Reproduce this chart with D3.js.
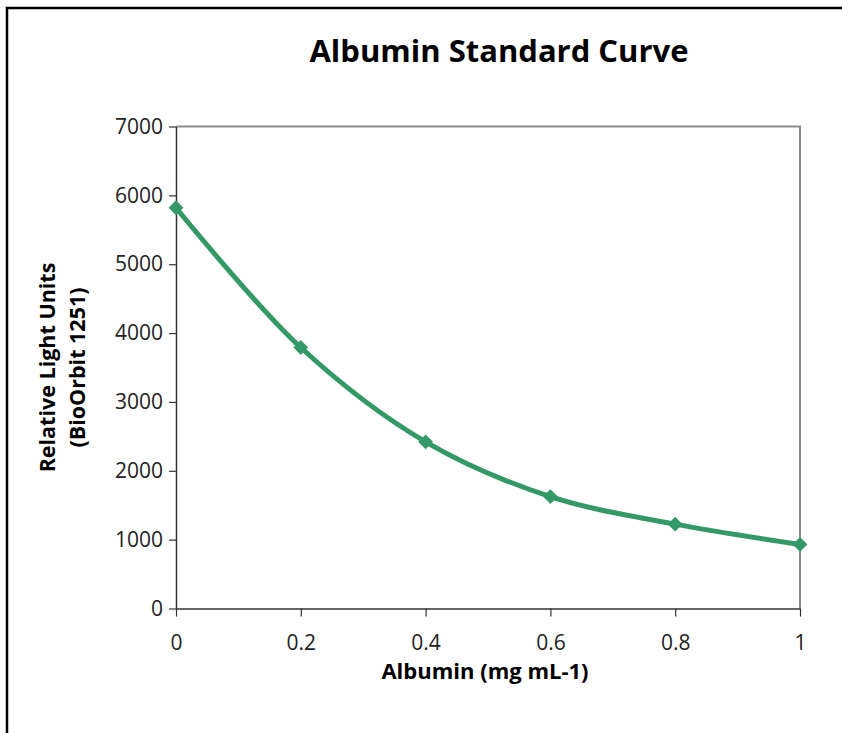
<!DOCTYPE html>
<html>
<head>
<meta charset="utf-8">
<script src="https://cdn.jsdelivr.net/npm/d3@7"></script>
<style>
  body { margin: 0; background: #fff; }
  svg { display: block; font-family: "Open Sans", sans-serif; }
</style>
</head>
<body>
<svg id="chart"></svg>
<script>
// data
var albumin = [0, 0.2, 0.4, 0.6, 0.8, 1]
var rlu = [5820, 3790, 2420, 1625, 1225, 930]
var yTicks = [0, 1000, 2000, 3000, 4000, 5000, 6000, 7000]
var xTicks = [0, 0.2, 0.4, 0.6, 0.8, 1]

var dimensions = {
  width: 842,
  height: 733,
  left: 176,
  right: 800,
  top: 126.5,
  bottom: 608.5
}

var svg = d3.select("#chart")
  .attr("width", dimensions.width)
  .attr("height", dimensions.height)

// outer chart frame (left and top edges visible)
svg.append("path")
  .attr("d", "M7,733 V8 H842")
  .attr("fill", "none")
  .attr("stroke", "#000")
  .attr("stroke-width", 2.5)

var x = d3.scaleLinear()
  .domain([0, 1])
  .range([dimensions.left, dimensions.right])

var y = d3.scaleLinear()
  .domain([0, 7000])
  .range([dimensions.bottom, dimensions.top])

// plot area border (top / right grey)
svg.append("path")
  .attr("d", "M" + dimensions.left + "," + dimensions.top + " H" + dimensions.right + " V" + dimensions.bottom)
  .attr("fill", "none")
  .attr("stroke", "#8c8c8c")
  .attr("stroke-width", 2)

// y axis
var yAxis = svg.append("g")
  .attr("transform", "translate(" + dimensions.left + ",0)")
  .call(d3.axisLeft(y).tickValues(yTicks).tickSize(7).tickSizeOuter(0).tickPadding(6).tickFormat(d3.format("d")))
yAxis.select(".domain").attr("stroke", "#333").attr("stroke-width", 1.5)
yAxis.selectAll(".tick line").attr("stroke", "#333").attr("stroke-width", 1.2)
yAxis.selectAll("text")
  .attr("font-size", 21)
  .attr("fill", "#222")
  .attr("font-family", "Open Sans")

// x axis
var xAxis = svg.append("g")
  .attr("transform", "translate(0," + dimensions.bottom + ")")
  .call(d3.axisBottom(x).tickValues(xTicks).tickSize(8).tickSizeOuter(0).tickPadding(19).tickFormat(d3.format("")))
xAxis.select(".domain").attr("stroke", "#333").attr("stroke-width", 1.5)
xAxis.selectAll(".tick line").attr("stroke", "#333").attr("stroke-width", 1.2)
xAxis.selectAll("text")
  .attr("font-size", 21)
  .attr("fill", "#222")
  .attr("font-family", "Open Sans")

// title
svg.append("text")
  .attr("x", 499)
  .attr("y", 62)
  .attr("text-anchor", "middle")
  .attr("font-weight", "bold")
  .attr("font-size", 31)
  .text("Albumin Standard Curve")

// x axis title
svg.append("text")
  .attr("x", 485)
  .attr("y", 679)
  .attr("text-anchor", "middle")
  .attr("font-weight", "bold")
  .attr("font-size", 22)
  .text("Albumin (mg mL-1)")

// y axis title, two lines
var yLabel = svg.append("g")
  .attr("transform", "translate(55," + (dimensions.top + dimensions.bottom) / 2 + ") rotate(-90)")
yLabel.append("text")
  .attr("text-anchor", "middle")
  .attr("font-weight", "bold")
  .attr("font-size", 21.5)
  .text("Relative Light Units")
yLabel.append("text")
  .attr("y", 30)
  .attr("text-anchor", "middle")
  .attr("font-weight", "bold")
  .attr("font-size", 21.5)
  .text("(BioOrbit 1251)")

var pts = albumin.map(function(d, i) { return [d, rlu[i]] })

// smoothed line
var line = d3.line()
  .x(function(d) { return x(d[0]) })
  .y(function(d) { return y(d[1]) })
  .curve(d3.curveCatmullRom.alpha(0.5))

svg.append("path")
  .datum(pts)
  .attr("d", line)
  .attr("fill", "none")
  .attr("stroke", "#339966")
  .attr("stroke-width", 5)
  .attr("stroke-linejoin", "round")

// diamond markers
svg.append("g")
  .selectAll("path")
  .data(pts)
  .join("path")
  .attr("transform", function(d) { return "translate(" + x(d[0]) + "," + y(d[1]) + ")" })
  .attr("d", d3.symbol().type(d3.symbolDiamond2).size(140))
  .attr("fill", "#339966")
</script>
</body>
</html>
